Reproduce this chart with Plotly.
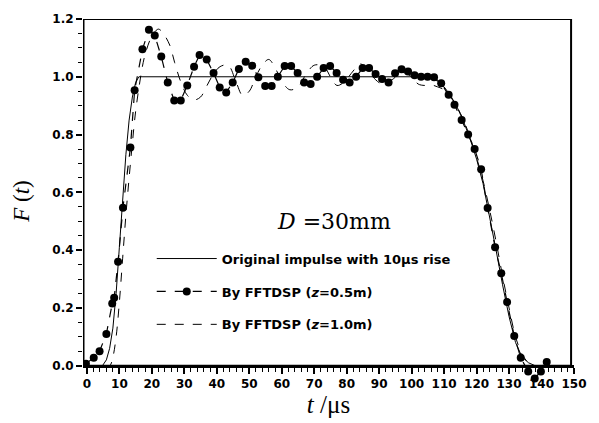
import plotly.graph_objects as go

# Original impulse (10 us rise)
t_orig = [0, 4.8, 6, 7, 8, 9, 10, 11, 12, 13, 14, 15, 16, 100, 103, 106, 108, 110, 112, 114, 116,
          118, 120, 122, 124, 126, 128, 130, 132, 134, 136, 138, 140]
f_orig = [0, 0, 0.02, 0.06, 0.13, 0.25, 0.41, 0.58, 0.73, 0.85, 0.93, 0.98, 1.0, 1.0, 1.0, 0.995, 0.985,
          0.965, 0.935, 0.895, 0.845, 0.785, 0.715, 0.63, 0.52, 0.40, 0.28, 0.17, 0.08, 0.03, 0.01, 0.0, 0.0]

# By FFTDSP (z = 0.5 m)
t_05 = [-0.3, 2.1, 3.9, 6.0, 7.8, 8.4, 9.6, 11.1, 13.4, 14.7, 17.1, 19.1, 20.9, 22.9, 24.9, 26.9, 28.9,
        30.9, 33.0, 34.7, 36.9, 39.0, 40.9, 42.9, 44.9, 46.8, 48.9, 50.9, 52.8, 54.9, 56.9, 58.8, 60.9,
        62.9, 64.9, 66.9, 68.9, 70.9, 72.9, 74.9, 76.9, 78.9, 80.9, 82.9, 84.9, 86.9, 88.9, 90.9, 92.9,
        94.9, 96.9, 98.9, 100.9, 102.9, 104.9, 106.9, 109.1, 111.4, 113.2, 115.4, 117.4, 119.4, 121.4,
        123.4, 125.7, 127.6, 129.4, 131.6, 133.6, 135.9, 137.9, 139.8, 141.6]
f_05 = [0.007, 0.027, 0.05, 0.11, 0.215, 0.235, 0.36, 0.547, 0.755, 0.953, 1.095, 1.163, 1.143, 1.07,
        0.98, 0.918, 0.918, 0.97, 1.035, 1.075, 1.06, 1.013, 0.963, 0.946, 0.98, 1.027, 1.052, 1.038,
        0.998, 0.968, 0.968, 1.0, 1.037, 1.037, 1.013, 0.98, 0.975, 1.0, 1.03, 1.037, 1.013, 0.99, 0.98,
        1.0, 1.03, 1.03, 1.01, 0.992, 0.98, 1.012, 1.026, 1.018, 1.005, 1.0, 1.0, 0.998, 0.978, 0.938,
        0.903, 0.85, 0.80, 0.75, 0.68, 0.546, 0.41, 0.32, 0.22, 0.103, 0.027, -0.02, -0.044, -0.02, 0.013]

# By FFTDSP (z = 1.0 m)
t_10 = [0, 4, 7, 8, 9, 10, 11, 12, 13, 14, 15, 16, 17, 18, 20, 22, 23.5, 25.5, 27, 29, 31, 33, 35, 37,
        39, 41, 43.5, 46, 48, 50, 52, 54, 56, 58, 60, 62.5, 65, 67, 70, 73, 75, 77, 79, 82, 84, 86, 88,
        91, 94, 97, 100, 102, 104, 106, 108, 110, 112, 114, 116, 118, 120, 122, 124, 126, 128, 130, 132,
        134, 136, 138, 140, 142]
f_10 = [0, 0, 0, 0.03, 0.10, 0.22, 0.37, 0.52, 0.65, 0.77, 0.88, 0.96, 1.03, 1.08, 1.14, 1.165, 1.15,
        1.11, 1.05, 0.98, 0.935, 0.92, 0.93, 0.97, 1.01, 1.035, 1.04, 0.98, 0.935, 0.95, 1.0, 1.04, 1.06,
        1.03, 0.985, 0.955, 0.965, 1.0, 1.04, 1.035, 1.0, 0.97, 0.98, 1.02, 1.045, 1.03, 1.0, 0.975,
        0.99, 1.015, 1.0, 0.975, 0.97, 0.972, 0.965, 0.955, 0.93, 0.895, 0.85, 0.79, 0.72, 0.64, 0.54,
        0.43, 0.31, 0.2, 0.1, 0.04, 0.01, 0.0, 0.0, 0.01]

x_ticks = [0, 10, 20, 30, 40, 50, 60, 70, 80, 90, 100, 110, 120, 130, 140, 150]
y_ticks = [0.0, 0.2, 0.4, 0.6, 0.8, 1.0, 1.2]
y_ticklabels = ["0.0", "0.2", "0.4", "0.6", "0.8", "1.0", "1.2"]

X_MIN, X_MAX, X_FRAME = -1.2, 150, 149.1
Y_MIN, Y_MAX = -0.06, 1.2

fig = go.Figure()
fig.add_trace(go.Scatter(x=t_orig, y=f_orig, mode="lines", line=dict(color="black", width=1),
                         name="Original impulse with 10μs rise", legendgroup="a"))
fig.add_trace(go.Scatter(x=t_05, y=f_05, mode="lines+markers",
                         line=dict(color="black", width=1.2, dash="dash"),
                         marker=dict(color="black", size=8, symbol="circle"),
                         name="By FFTDSP (<i>z</i>=0.5m)", legendgroup="b"))
fig.add_trace(go.Scatter(x=t_10, y=f_10, mode="lines", line=dict(color="black", width=1, dash="dash"),
                         name="By FFTDSP (<i>z</i>=1.0m)", legendgroup="c", line_shape="spline"))

# plot frame (from F=0 to F=1.2)
fig.add_shape(type="rect", xref="x", yref="y", x0=X_MIN, x1=X_FRAME, y0=0, y1=Y_MAX,
              line=dict(color="black", width=2), layer="above")
fig.add_shape(type="line", xref="x", yref="y", x0=X_MIN, x1=X_MIN, y0=0, y1=Y_MAX,
              line=dict(color="black", width=3), layer="above")

fig.add_annotation(x=76, y=0.50, xref="x", yref="y", showarrow=False,
                   text="<i>D</i> =30mm",
                   font=dict(family="DejaVu Serif, Liberation Serif, serif", size=22, color="black"))

tick_font = dict(family="DejaVu Sans, Liberation Sans, sans-serif", size=12, color="black", weight="bold")

fig.update_xaxes(range=[X_MIN, X_MAX], tickvals=x_ticks, anchor="free",
                 position=(0 - Y_MIN) / (Y_MAX - Y_MIN), ticklabeloverflow="allow",
                 showline=True, linewidth=3, linecolor="black", ticks="outside",
                 tickcolor="black", tickwidth=1.5, ticklen=6, showgrid=False, zeroline=False,
                 tickfont=tick_font,
                 minor=dict(ticks="outside", dtick=2, ticklen=4, tickcolor="black", tickwidth=1),
                 title=dict(text="<i>t</i> /μs", standoff=2,
                            font=dict(family="Liberation Serif, DejaVu Serif, serif", size=25,
                                      color="black")))
fig.update_yaxes(range=[Y_MIN, Y_MAX], tickvals=y_ticks, ticktext=y_ticklabels,
                 showline=False, ticks="outside", tickcolor="black", tickwidth=1.5, ticklen=6,
                 showgrid=False, zeroline=False, tickfont=tick_font,
                 minor=dict(ticks="outside", tickvals=[round(0.05 * k, 2) for k in range(1, 24)],
                            ticklen=4, tickcolor="black", tickwidth=1),
                 title=dict(text="<i>F</i> (<i>t</i>)", standoff=16,
                            font=dict(family="Liberation Serif, DejaVu Serif, serif", size=23,
                                      color="black")))

fig.update_layout(
    width=599, height=423,
    margin=dict(l=83, r=12, t=15, b=38),
    plot_bgcolor="white", paper_bgcolor="white",
    legend=dict(x=0.14, y=0.383, xanchor="left", yanchor="top", bgcolor="rgba(0,0,0,0)",
                tracegroupgap=13, itemwidth=60,
                font=dict(family="DejaVu Sans, Liberation Sans, sans-serif", size=13, color="black",
                          weight="bold")),
    showlegend=True,
)

fig.write_html("out.html")
